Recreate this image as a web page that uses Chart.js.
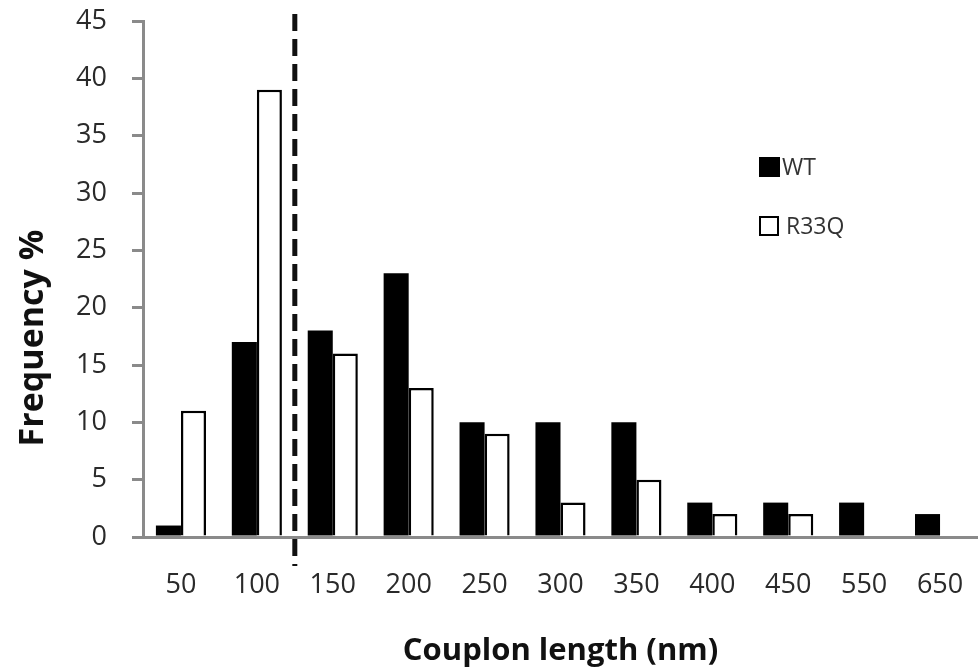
<!DOCTYPE html>
<html>
<head>
<meta charset="utf-8">
<script src="https://cdn.jsdelivr.net/npm/chart.js@4.4.1/dist/chart.umd.min.js"></script>
<style>
  html, body { margin: 0; padding: 0; background: #fff; overflow: hidden; }
  #wrap { width: 978px; height: 670px; position: relative; }
</style>
</head>
<body>
<div id="wrap"><canvas id="chartContainer" width="978" height="670"></canvas></div>
<script>
// Couplon length categories (nm)
const categories = ['50', '100', '150', '200', '250', '300', '350', '400', '450', '550', '650'];
// Frequency % per series
const wtValues = [1, 17, 18, 23, 10, 10, 10, 3, 3, 3, 2];
const r33qValues = [11, 39, 16, 13, 9, 3, 5, 2, 2, 0, 0];
const seriesNames = ['WT', 'R33Q'];
const yTicks = [0, 5, 10, 15, 20, 25, 30, 35, 40, 45];
const yTitle = 'Frequency %';
const xTitle = 'Couplon length (nm)';

const FONT = '"Open Sans", "DejaVu Sans", sans-serif';

// dashed separator between the 100 and 150 groups
const dividerPlugin = {
    id: 'divider',
    afterDatasetsDraw(chart) {
        const x = chart.scales.x;
        const px = (x.getPixelForValue(1) + x.getPixelForValue(2)) / 2;
        const ctx = chart.ctx;
        ctx.save();
        ctx.strokeStyle = '#111';
        ctx.lineWidth = 5;
        ctx.setLineDash([17, 8]);
        ctx.beginPath();
        ctx.moveTo(px, 14);
        ctx.lineTo(px, 566);
        ctx.stroke();
        ctx.restore();
    }
};

// legend + y title drawn by hand so they sit where the original has them
const extrasPlugin = {
    id: 'extras',
    afterDraw(chart) {
        const ctx = chart.ctx;
        ctx.save();
        ctx.font = '23px ' + FONT;
        ctx.textBaseline = 'middle';
        ctx.textAlign = 'left';
        const x0 = 759, rows = [167, 226];
        chart.data.datasets.forEach(function (ds, i) {
            const y = rows[i];
            if (i === 0) {
                ctx.fillStyle = '#000';
                ctx.fillRect(x0, y - 10, 21, 20);
            } else {
                ctx.fillStyle = '#fff';
                ctx.fillRect(x0 + 1, y - 9, 18, 18);
                ctx.strokeStyle = '#000';
                ctx.lineWidth = 2;
                ctx.strokeRect(x0 + 1, y - 9, 18, 18);
            }
            ctx.fillStyle = '#333';
            ctx.fillText(ds.label, x0 + (i === 0 ? 23 : 27), y + 1);
        });

        ctx.translate(33, 338);
        ctx.rotate(-Math.PI / 2);
        ctx.textAlign = 'center';
        ctx.font = 'bold 34px ' + FONT;
        ctx.fillStyle = '#111';
        ctx.fillText(yTitle, 0, 0);
        ctx.restore();
    }
};

document.addEventListener('DOMContentLoaded', function () {
    const ctx = document.getElementById('chartContainer').getContext('2d');
    new Chart(ctx, {
        type: 'bar',
        data: {
            labels: categories,
            datasets: [{
                label: seriesNames[0],
                data: wtValues,
                backgroundColor: '#000',
                borderColor: '#000',
                borderWidth: 0
            }, {
                label: seriesNames[1],
                data: r33qValues,
                backgroundColor: '#fff',
                borderColor: '#000',
                borderWidth: 2.5
            }]
        },
        options: {
            responsive: false,
            animation: false,
            devicePixelRatio: 1,
            layout: { padding: { top: 21, right: 0, left: 0, bottom: 0 } },
            datasets: {
                bar: { barPercentage: 1.0, categoryPercentage: 0.66 }
            },
            scales: {
                x: {
                    grid: { display: false, drawTicks: false },
                    border: { display: true, color: '#8a8a8a', width: 3 },
                    ticks: {
                        color: '#2a2a2a',
                        padding: 32,
                        font: { family: FONT, size: 27 },
                        maxRotation: 0,
                        autoSkip: false
                    },
                    title: {
                        display: true,
                        text: xTitle,
                        color: '#111',
                        font: { family: FONT, size: 31, weight: 'bold' },
                        padding: { top: 8, bottom: 0 }
                    },
                    afterFit: function (scale) {
                        scale.height = 133;
                        scale.paddingLeft = 0;
                        scale.paddingRight = 0;
                    }
                },
                y: {
                    min: 0,
                    max: 45,
                    afterBuildTicks: function (scale) {
                        scale.ticks = yTicks.map(function (v) { return { value: v }; });
                    },
                    grid: {
                        drawOnChartArea: false,
                        drawTicks: true,
                        tickLength: 11,
                        color: '#8a8a8a',
                        lineWidth: 3
                    },
                    border: { display: true, color: '#8a8a8a', width: 3 },
                    ticks: {
                        color: '#2a2a2a',
                        padding: 25,
                        font: { family: FONT, size: 27 }
                    },
                    title: { display: false },
                    afterFit: function (scale) {
                        scale.width = 143;
                        scale.paddingTop = 0;
                        scale.paddingBottom = 0;
                    }
                }
            },
            plugins: {
                legend: { display: false },
                tooltip: { enabled: false }
            }
        },
        plugins: [dividerPlugin, extrasPlugin]
    });
});
</script>
</body>
</html>
